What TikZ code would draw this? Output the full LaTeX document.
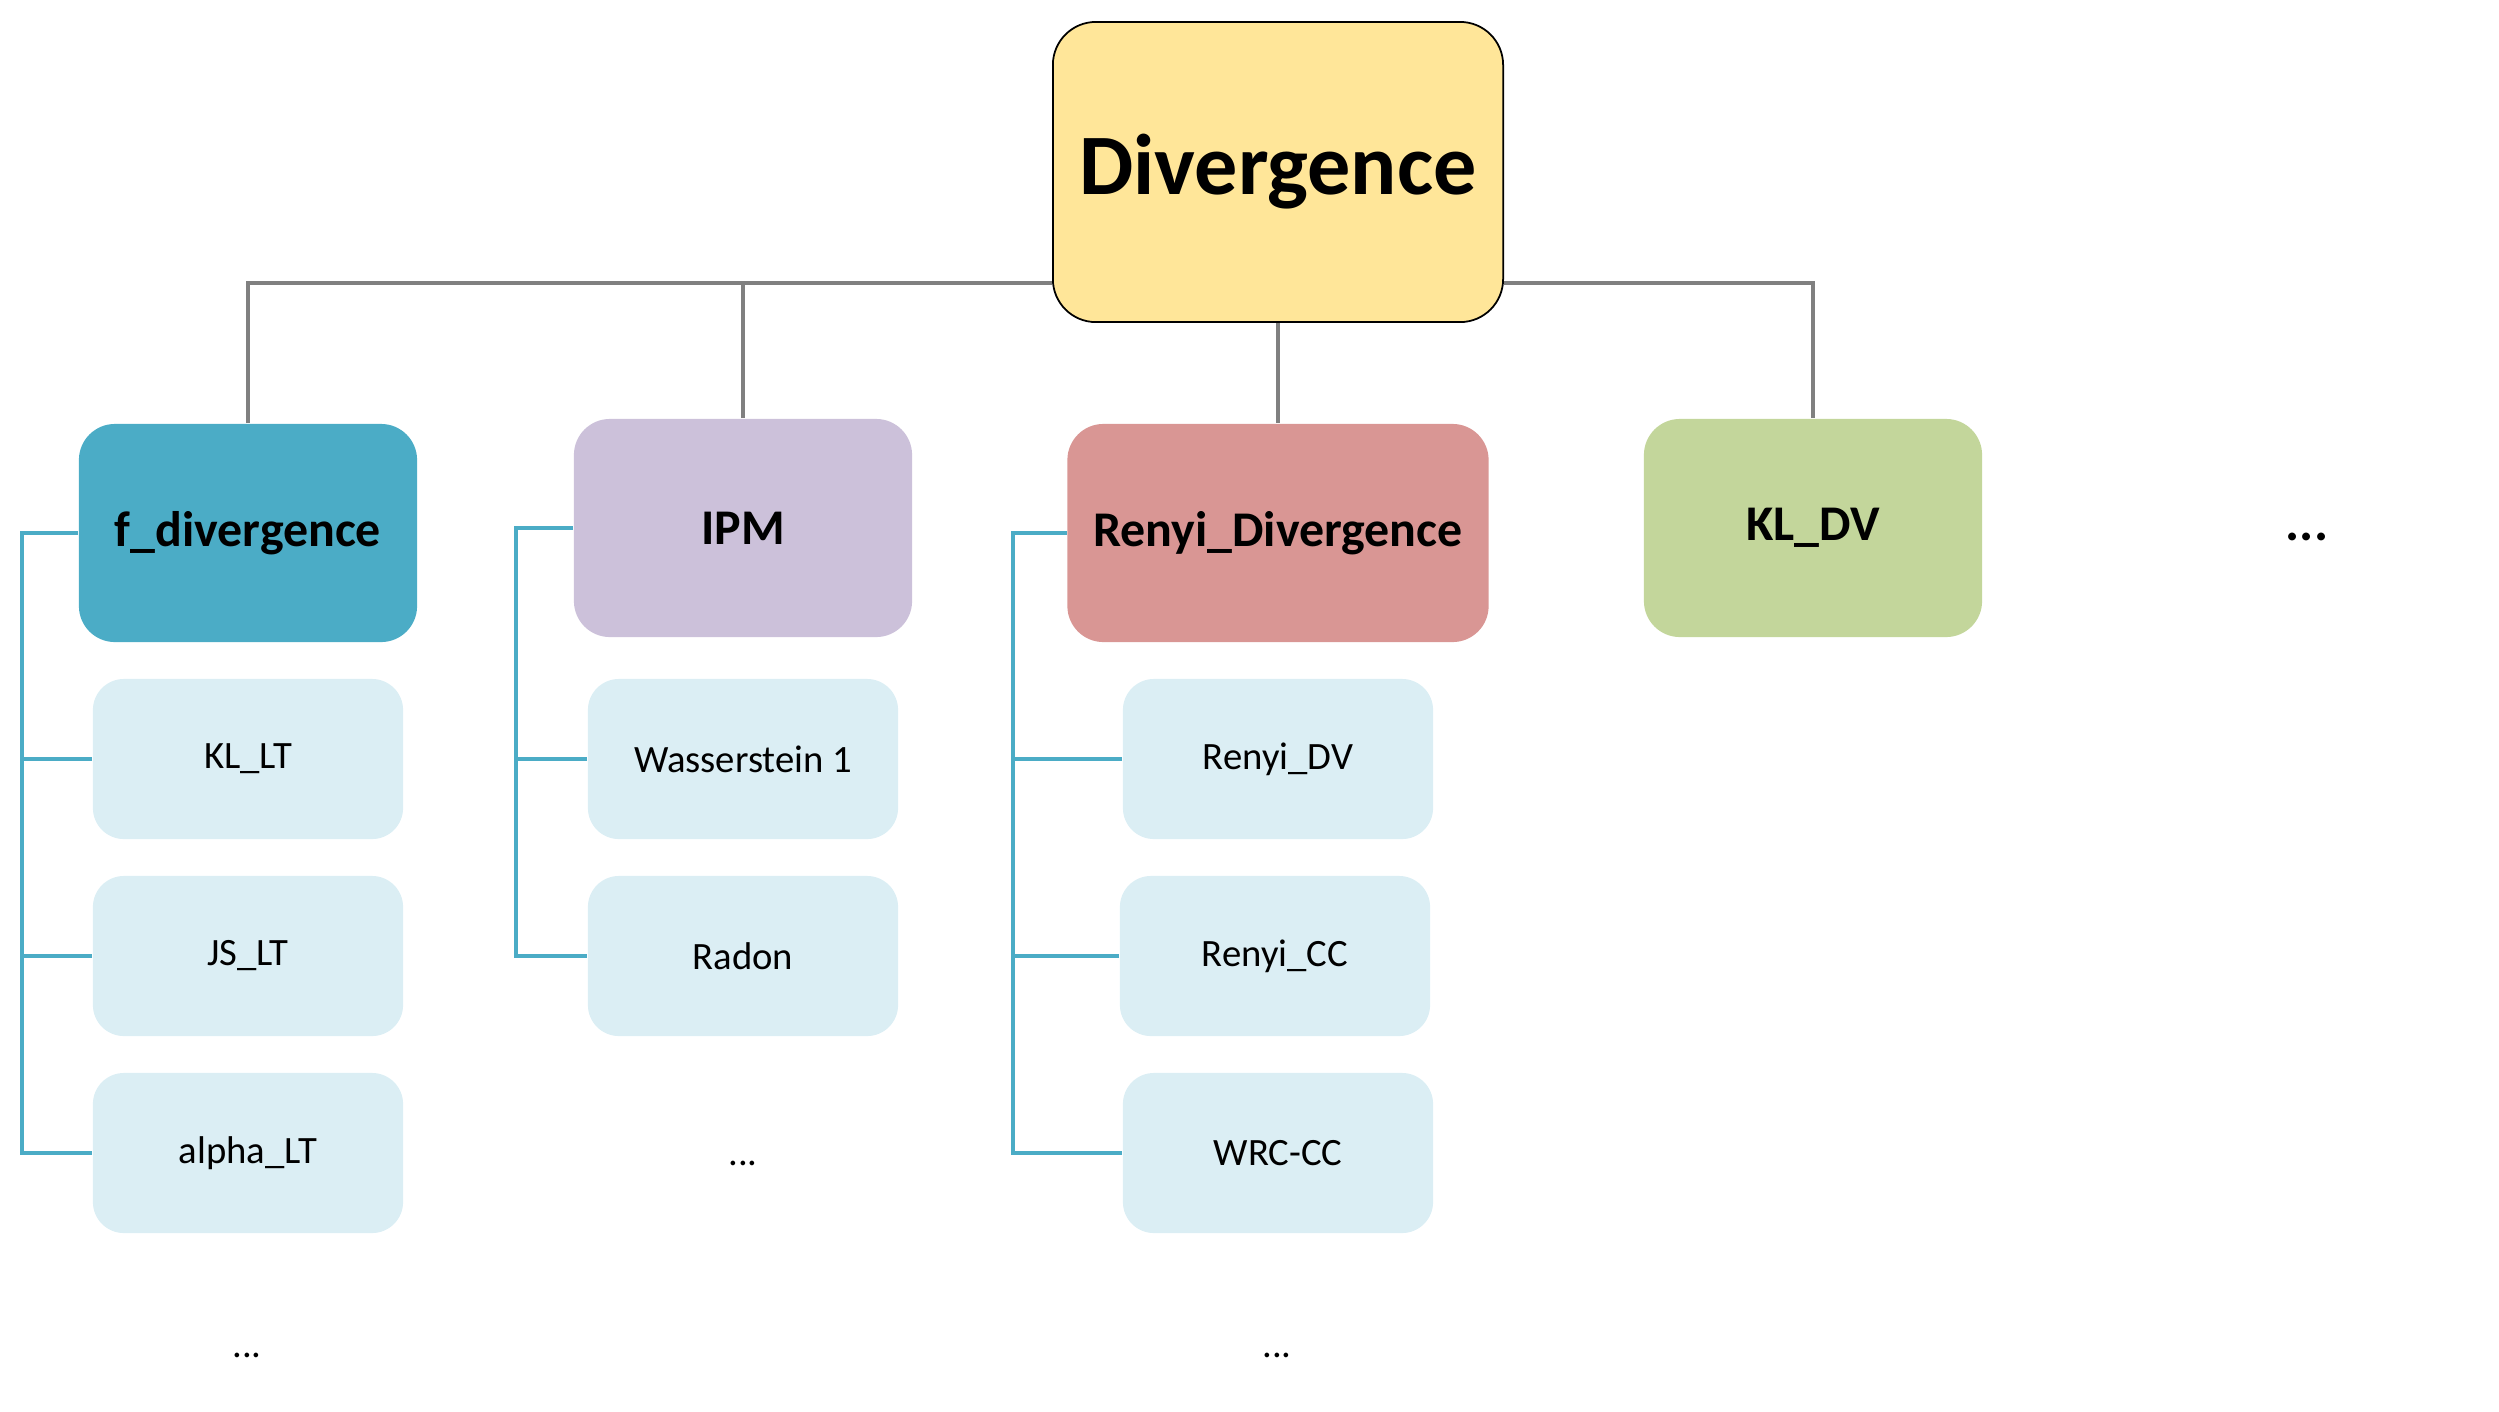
\documentclass[tikz,border=0pt]{standalone}
\usepackage{fontspec}
\setmainfont{Carlito}
\definecolor{rootfill}{HTML}{FFE699}
\definecolor{fdivfill}{HTML}{4BACC6}
\definecolor{ipmfill}{HTML}{CCC1DA}
\definecolor{renyifill}{HTML}{D99694}
\definecolor{kldvfill}{HTML}{C3D69B}
\definecolor{leaffill}{HTML}{DBEEF4}
\definecolor{trunkgray}{HTML}{808080}
\definecolor{branchblue}{HTML}{4BACC6}

\begin{document}
\begin{tikzpicture}[x=0.01cm,y=-0.01cm,
  rootbox/.style={draw=black,line width=0.5pt,fill=rootfill,rounded corners=0.43cm,
    minimum width=4.5cm,minimum height=3.0cm,inner sep=0pt,
    font=\fontsize{24.5}{30}\selectfont\bfseries},
  catbox/.style={rounded corners=0.36cm,minimum width=3.38cm,minimum height=2.18cm,
    inner sep=0pt,font=\fontsize{14.2}{18}\selectfont\bfseries},
  leafbox/.style={fill=leaffill,rounded corners=0.31cm,minimum width=3.1cm,
    minimum height=1.6cm,inner sep=0pt,font=\fontsize{11}{14}\selectfont},
  more/.style={inner sep=1pt,font=\fontsize{11}{14}\selectfont},
  trunk/.style={draw=trunkgray,line width=1.1pt},
  branch/.style={draw=branchblue,line width=1.1pt}]
  \useasboundingbox (0,0) rectangle (2499,1411);
  % top level
  \node[rootbox] (div) at (1278,172) {Divergence};
  \coordinate (bus) at (0,283);
  % second level
  \node[catbox,fill=fdivfill]  (fdiv)  at (248,533)  {f\_divergence};
  \node[catbox,fill=ipmfill]   (ipm)   at (743,528)  {IPM};
  \node[catbox,fill=renyifill,minimum width=4.21cm] (renyi) at (1278,533) {Renyi\_Divergence};
  \node[catbox,fill=kldvfill]  (kldv)  at (1813,528) {KL\_DV};
  \node[more,font=\fontsize{15}{18}\selectfont\bfseries] (moretop) at (2307,537) {...};
  % leaves
  \node[leafbox] (kllt)    at (248,759)  {KL\_LT};
  \node[leafbox] (jslt)    at (248,956)  {JS\_LT};
  \node[leafbox] (alphalt) at (248,1153) {alpha\_LT};
  \node[more]    (fmore)   at (247,1355) {...};
  \node[leafbox] (wass)    at (743,759)  {Wasserstein 1};
  \node[leafbox] (radon)   at (743,956)  {Radon};
  \node[more]    (ipmmore) at (743,1163) {...};
  \node[leafbox] (rdv)     at (1278,759) {Renyi\_DV};
  \node[leafbox] (rcc)     at (1275,956) {Renyi\_CC};
  \node[leafbox] (wrc)     at (1278,1153){WRC-CC};
  \node[more]    (rmore)   at (1277,1355){...};
  % gray connectors
  \draw[trunk] (fdiv.north) |- (div.west |- bus);
  \draw[trunk] (ipm.north) -- (ipm.north |- bus);
  \draw[trunk] (kldv.north) |- (div.east |- bus);
  \draw[trunk] (div.south) -- (renyi.north);
  % blue connectors
  \coordinate (fbar) at (22,0);
  \coordinate (ibar) at (516,0);
  \coordinate (rbar) at (1013,0);
  \draw[branch] (fdiv.west) -| (fbar |- alphalt.west) -- (alphalt.west);
  \foreach \n in {kllt,jslt}
    \draw[branch] (\n.west) -- (fbar |- \n.west);
  \draw[branch] (ipm.west) -| (ibar |- radon.west) -- (radon.west);
  \draw[branch] (wass.west) -- (ibar |- wass.west);
  \draw[branch] (renyi.west) -| (rbar |- wrc.west) -- (wrc.west);
  \foreach \n in {rdv,rcc}
    \draw[branch] (\n.west) -- (rbar |- \n.west);
\end{tikzpicture}
\end{document}
